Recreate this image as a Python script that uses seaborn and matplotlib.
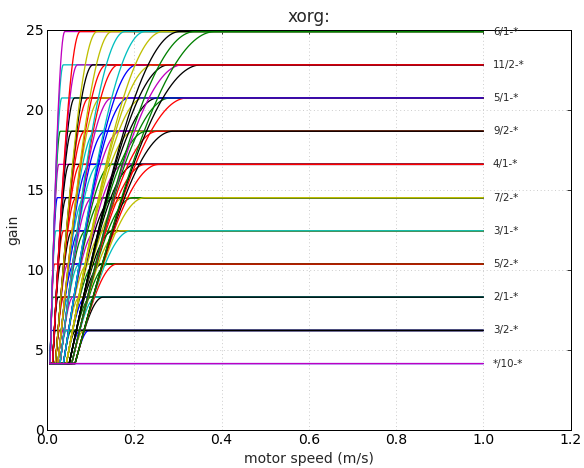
import numpy as np
import pandas as pd
import seaborn as sns
from matplotlib import pyplot as plt

# plateau gain of every acceleration setting, lowest first
gain_levels = [4.15, 6.22, 8.30, 10.37, 12.45, 14.52, 16.60, 18.67, 20.75, 22.82, 24.90]
level_labels = ["*/10-*", "3/2-*", "2/1-*", "5/2-*", "3/1-*", "7/2-*",
                "4/1-*", "9/2-*", "5/1-*", "11/2-*", "6/1-*"]

# motor speed where each of the 10 threshold curves leaves the base gain
thresholds = [0.0068, 0.0127, 0.0192, 0.0248, 0.0298, 0.0375, 0.0443, 0.0508, 0.0565, 0.0642]

# colour of each threshold curve (1..10) per level, as seen in the picture
curve_colors = {
    "3/2-*": ["b", "k", "r", "m", "c", "g", "k", "b", "y", "b"],
    "2/1-*": ["g", "k", "r", "c", "m", "y", "b", "g", "c", "k"],
    "5/2-*": ["r", "k", "m", "b", "c", "y", "g", "k", "g", "r"],
    "3/1-*": ["c", "r", "k", "b", "g", "m", "y", "k", "y", "c"],
    "7/2-*": ["b", "k", "r", "c", "m", "g", "k", "y", "g", "y"],
    "4/1-*": ["m", "k", "r", "b", "c", "g", "m", "k", "r", "r"],
    "9/2-*": ["g", "k", "r", "c", "b", "m", "y", "g", "r", "k"],
    "5/1-*": ["c", "k", "r", "y", "m", "b", "y", "k", "g", "r"],
    "11/2-*": ["c", "m", "k", "r", "r", "b", "y", "k", "m", "k"],
    "6/1-*": ["m", "r", "y", "y", "c", "c", "y", "k", "g", "g"],
}
plateau_colors = {"3/2-*": "k", "2/1-*": "k", "5/2-*": "r", "3/1-*": "c",
                  "7/2-*": "y", "4/1-*": "r", "9/2-*": "k", "5/1-*": "b",
                  "11/2-*": "r", "6/1-*": "g"}
flat_colors = ["b", "m"]

classic = {"b": "#0000ff", "g": "#008000", "r": "#ff0000", "c": "#00bfbf",
           "m": "#bf00bf", "y": "#bfbf00", "k": "#000000"}

speed = np.linspace(0.006, 1.0, 5000)
base = gain_levels[0]


def curve(t, level):
    # leaves the base gain at t, reaches the plateau at t * level / base
    end = t * level / base
    u = np.clip((speed - t) / (end - t), 0, 1)
    return base + (level - base) * np.sin(np.pi / 2 * u)


frames = []
order = []
palette = {}
for level, label in zip(gain_levels[1:], level_labels[1:]):
    cols = curve_colors[label]
    idx = list(range(10))
    # the curve whose colour shows on the plateau goes last
    tops = [i for i in idx if cols[i] == plateau_colors[label]]
    if tops:
        idx.remove(tops[-1])
        idx.append(tops[-1])
    for i in idx:
        name = label + str(i)
        frames.append(pd.DataFrame({"speed": speed, "gain": curve(thresholds[i], level),
                                    "curve": name}))
        order.append(name)
        palette[name] = classic[cols[i]]
for j, c in enumerate(flat_colors):
    name = "flat" + str(j)
    frames.append(pd.DataFrame({"speed": speed, "gain": base, "curve": name}))
    order.append(name)
    palette[name] = classic[c]
df = pd.concat(frames, ignore_index=True)

sns.set_style("white")
plt.rcParams.update({
    "font.family": ["DejaVu Sans"],
    "xtick.direction": "in", "ytick.direction": "in",
    "xtick.top": True, "ytick.right": True,
    "xtick.major.size": 4, "ytick.major.size": 4,
    "axes.edgecolor": "black", "axes.linewidth": 1.0,
})

fig = plt.figure(figsize=(584 / 72, 468 / 72), dpi=72)
ax = fig.add_axes([0.0805, 0.0812, 0.8965, 0.8548])
sns.lineplot(data=df, x="speed", y="gain", hue="curve", hue_order=order,
             palette=palette, estimator=None, sort=False, legend=False,
             linewidth=1.3, ax=ax)

for level, label in zip(gain_levels, level_labels):
    ax.text(1.022, level, label, va="center", ha="left", fontsize=10.3)

ax.set_xlim(0, 1.2)
ax.set_ylim(0, 25)
ax.set_xticks([0.0, 0.2, 0.4, 0.6, 0.8, 1.0, 1.2])
ax.set_yticks([0, 5, 10, 15, 20, 25])
ax.tick_params(labelsize=14, colors="black", pad=3)
ax.grid(True, linestyle=(0, (1, 3)), color="#c4c4c4", linewidth=0.9)
ax.set_axisbelow(True)
ax.set_title("xorg:", fontsize=17, pad=8)
ax.set_xlabel("motor speed (m/s)", fontsize=14, labelpad=5)
ax.set_ylabel("gain", fontsize=14, labelpad=6)

fig.savefig("out.png", dpi=72)
